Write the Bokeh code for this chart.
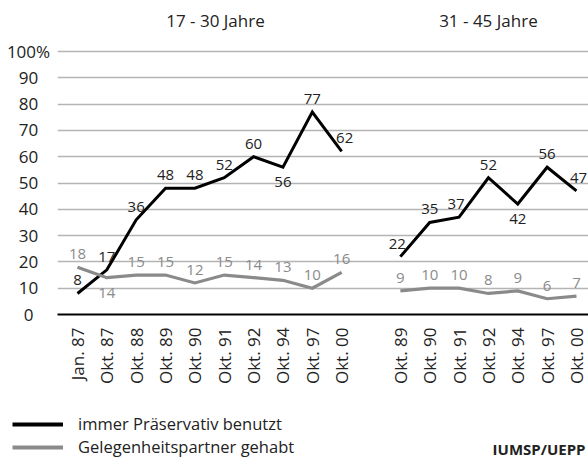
import math
from bokeh.plotting import figure
from bokeh.layouts import row, column
from bokeh.models import Range1d, FixedTicker, Legend, LegendItem, Label, ColumnDataSource
from bokeh.core.properties import value
from bokeh.embed import file_html
from bokeh.resources import INLINE

FONT = "Open Sans"

# ---------------- data ----------------
group_titles = ["17 - 30 Jahre", "31 - 45 Jahre"]
dates_17_30 = ["Jan. 87", "Okt. 87", "Okt. 88", "Okt. 89", "Okt. 90",
               "Okt. 91", "Okt. 92", "Okt. 94", "Okt. 97", "Okt. 00"]
dates_31_45 = ["Okt. 89", "Okt. 90", "Okt. 91", "Okt. 92", "Okt. 94", "Okt. 97", "Okt. 00"]
kondom_17_30 = [8, 17, 36, 48, 48, 52, 60, 56, 77, 62]
partner_17_30 = [18, 14, 15, 15, 12, 15, 14, 13, 10, 16]
kondom_31_45 = [22, 35, 37, 52, 42, 56, 47]
partner_31_45 = [9, 10, 10, 8, 9, 6, 7]
series_names = ["immer Präservativ benutzt", "Gelegenheitspartner gehabt"]
y_ticks = list(range(0, 101, 10))
source_note = "IUMSP/UEPP"

# label placement (style): 1 = above the point, -1 = below; dx = horizontal nudge in px
kondom_17_30_side = [1, 1, 1, 1, 1, 1, 1, -1, 1, 1]
kondom_17_30_dx = [0, 0, 0, 0, 0, 0, 0, 0, 0, 3]
partner_17_30_side = [1, -1, 1, 1, 1, 1, 1, 1, 1, 1]
partner_17_30_dx = [0] * 10
kondom_31_45_side = [1, 1, 1, 1, -1, 1, 1]
kondom_31_45_dx = [-3, 0, -3, 0, 0, 0, 2]
partner_31_45_side = [1] * 7
partner_31_45_dx = [0] * 7

BLACK = "#000000"
GREY = "#8a8a8a"
TEXT = "#222222"

x1 = list(range(len(dates_17_30)))
x2 = [len(dates_17_30) + 1 + i for i in range(len(dates_31_45))]

TOP = 119.4  # value at the top edge of the plotting frame

p = figure(width=531, height=400, x_range=Range1d(-0.681, 17.41), y_range=Range1d(0, TOP),
           output_backend="svg", toolbar_location=None,
           min_border_left=0, min_border_right=0, min_border_top=0, min_border_bottom=86)
p.outline_line_color = None

# grid
p.xgrid.visible = False
p.ygrid.ticker = FixedTicker(ticks=y_ticks)
p.ygrid.grid_line_color = "#b4b4b4"
p.ygrid.grid_line_width = 1.5
p.yaxis.visible = False

# x axis
xa = p.xaxis[0]
xa.ticker = FixedTicker(ticks=x1 + x2)
overrides = {}
for x, lab in zip(x1, dates_17_30):
    overrides[x] = lab
for x, lab in zip(x2, dates_31_45):
    overrides[x] = lab
xa.major_label_overrides = overrides
xa.major_label_orientation = math.pi / 2
xa.major_tick_in = 0
xa.major_tick_out = 0
xa.minor_tick_in = 0
xa.minor_tick_out = 0
xa.axis_line_color = BLACK
xa.axis_line_width = 2
xa.major_label_standoff = 13
xa.major_label_text_font = FONT
xa.major_label_text_font_size = "17px"
xa.major_label_text_color = TEXT

# lines
k1 = p.line(x1, kondom_17_30, line_color=BLACK, line_width=3, line_join="miter")
k2 = p.line(x2, kondom_31_45, line_color=BLACK, line_width=3, line_join="miter")
g1 = p.line(x1, partner_17_30, line_color=GREY, line_width=3.2, line_join="miter")
g2 = p.line(x2, partner_31_45, line_color=GREY, line_width=3.2, line_join="miter")


def add_labels(xs, ys, sides, dxs, color):
    src = ColumnDataSource(dict(
        x=xs, y=ys, text=[str(v) for v in ys],
        dy=[-13 if s > 0 else 15 for s in sides], dx=dxs,
    ))
    p.text(x="x", y="y", text="text", x_offset="dx", y_offset="dy", source=src,
           text_align="center", text_baseline="middle",
           text_font=value(FONT), text_font_size="15px", text_color=color)


add_labels(x1, kondom_17_30, kondom_17_30_side, kondom_17_30_dx, TEXT)
add_labels(x2, kondom_31_45, kondom_31_45_side, kondom_31_45_dx, TEXT)
add_labels(x1, partner_17_30, partner_17_30_side, partner_17_30_dx, GREY)
add_labels(x2, partner_31_45, partner_31_45_side, partner_31_45_dx, GREY)

# group titles
tsrc = ColumnDataSource(dict(x=[(x1[0] + x1[-1]) / 2 + 0.2, (x2[0] + x2[-1]) / 2],
                             y=[111.8, 111.8], text=group_titles))
p.text(x="x", y="y", text="text", source=tsrc, text_align="center", text_baseline="middle",
       text_font=value(FONT), text_font_size="17px", text_color=TEXT)

# y tick labels in a narrow companion figure on the same scale
left = figure(width=57, height=400, x_range=Range1d(0, 57), y_range=Range1d(-6.084, TOP),
              x_axis_location=None, y_axis_location=None,
              output_backend="svg", toolbar_location=None,
              min_border_left=0, min_border_right=0, min_border_top=0, min_border_bottom=70)
left.outline_line_color = None
left.grid.visible = False
ysrc = ColumnDataSource(dict(x=[28] * len(y_ticks), y=y_ticks,
                             text=[f"{v}%" if v == 100 else str(v) for v in y_ticks]))
left.text(x="x", y="y", text="text", source=ysrc, text_align="center", text_baseline="middle",
          text_font=value(FONT), text_font_size="17px", text_color=TEXT)

# legend strip (its renderers carry the series but stay hidden; only the legend shows)
bottom = figure(width=588, height=58, x_range=Range1d(0, 588), y_range=Range1d(0, 58),
                x_axis_location=None, y_axis_location=None,
                output_backend="svg", toolbar_location=None,
                min_border_left=0, min_border_right=0, min_border_top=0, min_border_bottom=0)
bottom.outline_line_color = None
bottom.grid.visible = False
lk = bottom.line(x1, kondom_17_30, line_color=BLACK, line_width=4, visible=False)
lg = bottom.line(x1, partner_17_30, line_color=GREY, line_width=4, visible=False)

legend_style = dict(orientation="vertical", padding=0, margin=0, spacing=0,
                    glyph_width=51, glyph_height=20, label_height=20, label_standoff=15,
                    label_text_font=FONT, label_text_font_size="16.5px", label_text_color=TEXT,
                    border_line_color=None, background_fill_alpha=0,
                    inactive_fill_alpha=0, click_policy="none")
leg1 = Legend(items=[LegendItem(label=series_names[0], renderers=[lk])],
              location=(12, 23), **legend_style)
leg2 = Legend(items=[LegendItem(label=series_names[1], renderers=[lg])],
              location=(12, 0), **legend_style)
bottom.add_layout(leg1)
bottom.add_layout(leg2)

note = Label(x=585, y=10, text=source_note, text_align="right", text_baseline="middle",
             text_font=FONT, text_font_size="15px", text_font_style="bold", text_color=TEXT)
bottom.add_layout(note)

layout = column(row(column(left, spacing=0), p, spacing=0), bottom, spacing=0)
open("out.html", "w").write(file_html(layout, INLINE))
